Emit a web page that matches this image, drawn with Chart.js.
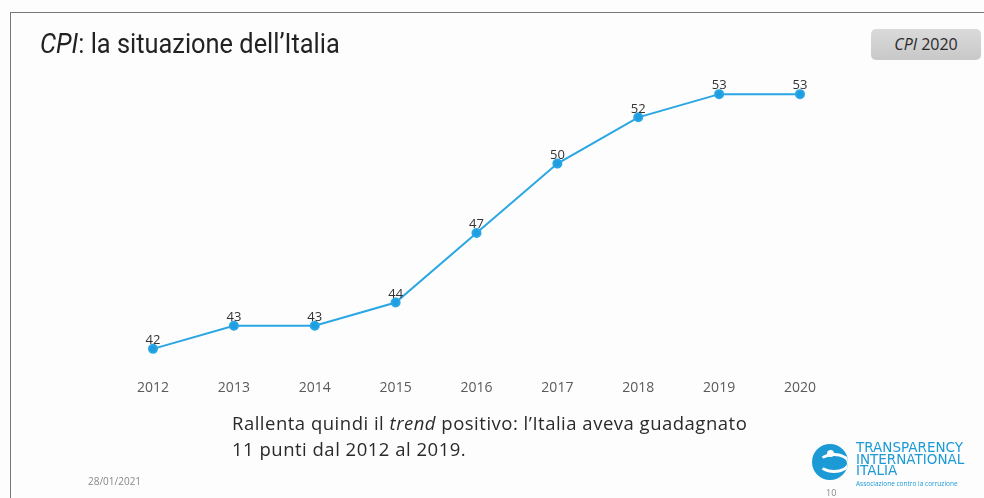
<!DOCTYPE html>
<html>
<head>
<meta charset="utf-8">
<script src="https://cdn.jsdelivr.net/npm/chart.js@4.4.1/dist/chart.umd.min.js"></script>
<style>
  html, body { margin: 0; padding: 0; background: #fdfdfd; }
  #slide { position: relative; width: 984px; height: 498px; overflow: hidden; background: #fdfdfd; }
  #frame { position: absolute; left: 10px; top: 12px; right: -2px; bottom: -2px; border-top: 1px solid #777; border-left: 1px solid #777; }
  #titolo { position: absolute; left: 40px; top: 28px; font-family: "Roboto", sans-serif; font-size: 27px; color: #222;
            transform: scaleX(0.94); transform-origin: left top; white-space: nowrap; }
  #badge { position: absolute; left: 871px; top: 29px; width: 110px; height: 31px; border-radius: 5px;
           background: linear-gradient(#dadada, #c8c8c8); font-family: "Open Sans", sans-serif; font-size: 16px;
           color: #2a2a2a; text-align: center; line-height: 31px; }
  #nota { position: absolute; left: 232px; top: 410px; font-family: "Open Sans", sans-serif; font-size: 18.5px; letter-spacing: 0.5px;
          line-height: 26px; color: #2a2a2a; white-space: nowrap; }
  #data { position: absolute; left: 88px; top: 474px; font-family: "Open Sans", sans-serif; font-size: 10px; color: #888; }
  #pag { position: absolute; left: 826px; top: 486px; font-family: "Open Sans", sans-serif; font-size: 9px; color: #888; }
  #logo { position: absolute; left: 812px; top: 442px; }
  #logo .cerchio { position: absolute; left: 0; top: 2px; width: 36px; height: 36px; border-radius: 50%; background: #1b9ad6; overflow: hidden; }
  #logo .cerchio .anello { position: absolute; left: 6px; top: 9px; width: 26px; height: 14px; border: 3px solid #fff; border-radius: 50%; border-left-color: transparent; }
  #logo .cerchio .testa { position: absolute; left: 15px; top: 6px; width: 7px; height: 7px; border-radius: 50%; background: #fff; }
  #logo .testo { position: absolute; left: 44px; top: 0; font-family: "DejaVu Sans", sans-serif; font-size: 13.5px; line-height: 11.5px; color: #1b9ad6; white-space: nowrap; }
  #logo .sub { position: absolute; left: 44px; top: 37px; font-family: "Open Sans", sans-serif; font-size: 6.5px; color: #1b9ad6; white-space: nowrap; }
  canvas { position: absolute; left: 0; top: 0; }
</style>
</head>
<body>
<div id="slide">
  <div id="frame"></div>
  <canvas id="grafico" width="984" height="498"></canvas>
  <div id="titolo"><i>CPI</i>: la situazione dell’Italia</div>
  <div id="badge"><i>CPI</i> 2020</div>
  <div id="nota">Rallenta quindi il <i>trend</i> positivo: l’Italia aveva guadagnato<br>11 punti dal 2012 al 2019.</div>
  <div id="data">28/01/2021</div>
  <div id="pag">10</div>
  <div id="logo">
    <div class="cerchio"><div class="anello"></div><div class="testa"></div></div>
    <div class="testo">TRANSPARENCY<br>INTERNATIONAL<br>ITALIA</div>
    <div class="sub">Associazione contro la corruzione</div>
  </div>
</div>
<script>
// dati
const anni = ['2012', '2013', '2014', '2015', '2016', '2017', '2018', '2019', '2020'];
const punteggi = [42, 43, 43, 44, 47, 50, 52, 53, 53];

// etichette sopra i punti
const etichette = {
  id: 'etichette',
  afterDatasetsDraw(chart) {
    const ctx = chart.ctx;
    const meta = chart.getDatasetMeta(0);
    ctx.save();
    ctx.font = '13px "Open Sans", sans-serif';
    ctx.fillStyle = '#333';
    ctx.textAlign = 'center';
    ctx.textBaseline = 'bottom';
    meta.data.forEach((p, i) => {
      ctx.fillText(punteggi[i], p.x, p.y - 2);
    });
    ctx.restore();
  }
};

new Chart(document.getElementById('grafico'), {
  type: 'line',
  data: {
    labels: anni,
    datasets: [{
      data: punteggi,
      borderColor: '#29a6e3',
      backgroundColor: '#1c9ee0',
      borderWidth: 2,
      pointRadius: 4,
      pointHoverRadius: 4,
      tension: 0,
      clip: false
    }]
  },
  options: {
    responsive: false,
    animation: false,
    layout: { padding: { left: 153, right: 184, top: 71, bottom: 96 } },
    plugins: { legend: { display: false }, tooltip: { enabled: false } },
    scales: {
      x: {
        offset: false,
        grid: { display: false, drawTicks: false },
        border: { display: false },
        ticks: { color: '#5a5a5a', font: { family: 'Open Sans', size: 14 }, padding: 8 },
        afterFit(s) { s.height = 30; }
      },
      y: { display: false, min: 41, max: 54 }
    }
  },
  plugins: [etichette]
});
</script>
</body>
</html>
